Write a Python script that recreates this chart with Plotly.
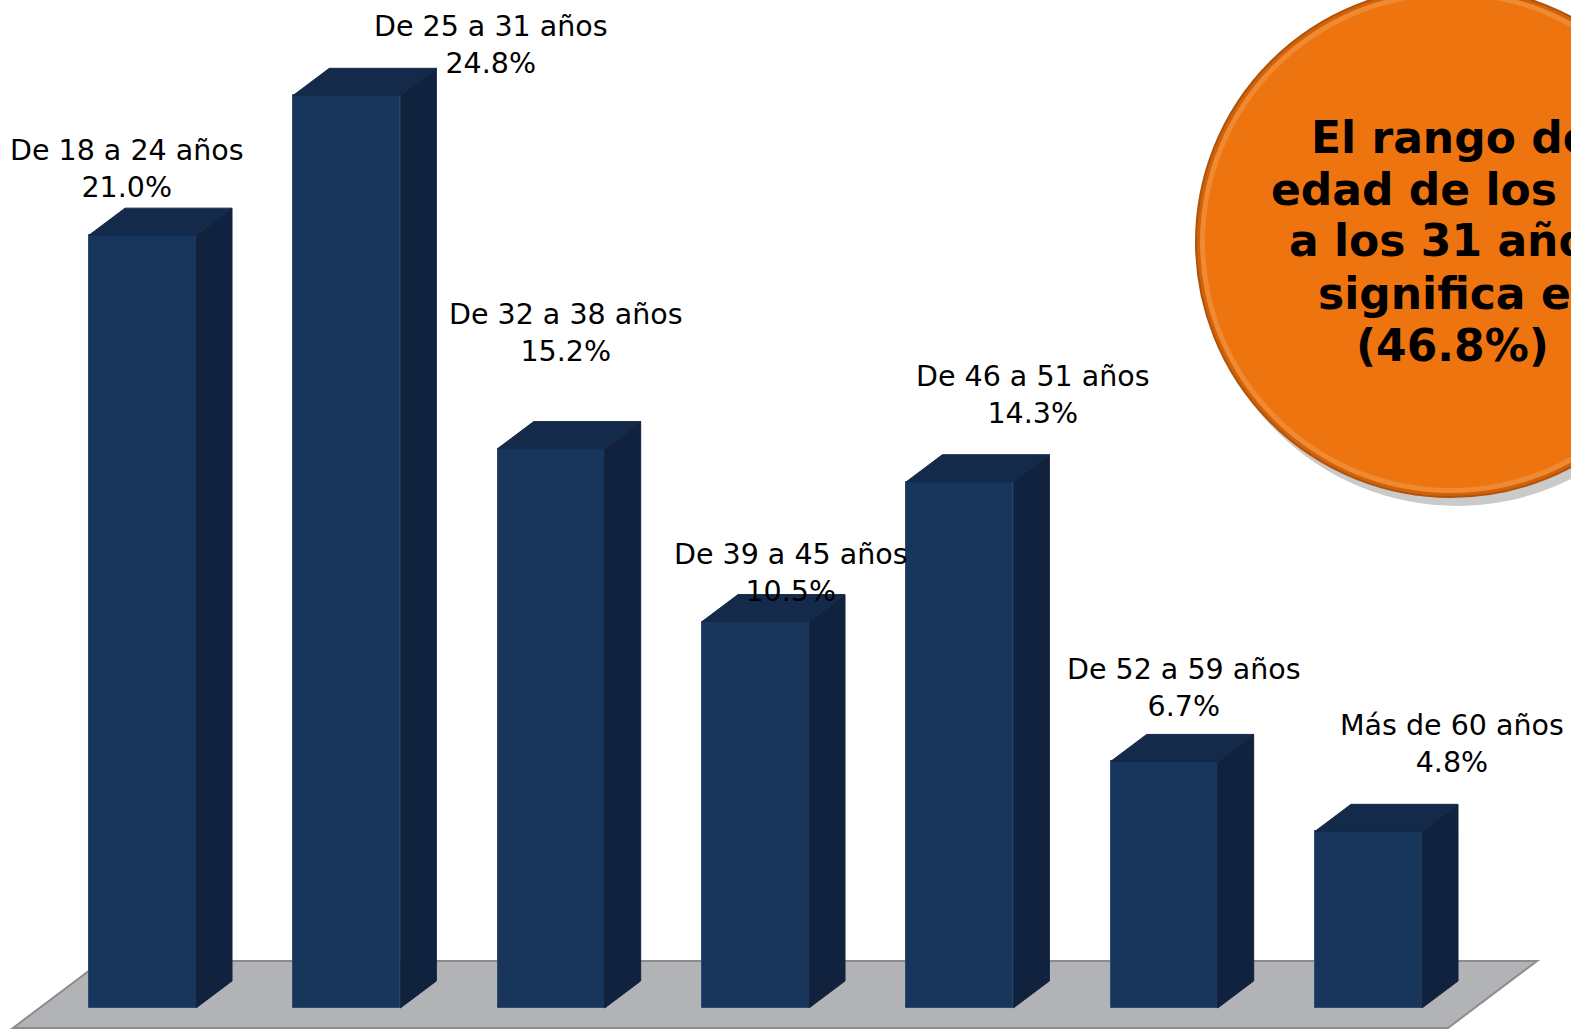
import plotly.graph_objects as go

# ---- data ----
categories = ["De 18 a 24 años", "De 25 a 31 años", "De 32 a 38 años", "De 39 a 45 años",
              "De 46 a 51 años", "De 52 a 59 años", "Más de 60 años"]
values = [21.0, 24.8, 15.2, 10.5, 14.3, 6.7, 4.8]
callout_lines = ["El rango de", "edad de los 18", "a los 31 años", "significa el", "(46.8%)"]

# ---- style / geometry ----
W, H = 1571, 1031
FRONT = "#18355C"
SIDE = "#10223E"
TOP = "#142A4A"
EDGE = "#2C4A72"
BAR_W = 0.5237          # in category units
DX, DY = 0.1762, 0.734  # 3D depth offset (x units, value units)
X_RANGE = [-0.6974, 6.991]
Y_RANGE = [-0.625, 27.39]
# label offsets in pixels (xshift, yshift) relative to bar front top centre
label_shift = [(-16, 66), (144, 50), (15, 116), (35, 49), (73, 87), (20, 73), (83, 87)]

fig = go.Figure()

idx = list(range(len(values)))
for i, v in zip(idx, values):
    xl, xr = i - BAR_W / 2, i + BAR_W / 2
    # side face
    fig.add_trace(go.Scatter(x=[xr, xr + DX, xr + DX, xr, xr],
                             y=[0, DY, v + DY, v, 0],
                             mode="lines", fill="toself", fillcolor=SIDE,
                             line=dict(color=SIDE, width=1), hoverinfo="skip"))
    # top face
    fig.add_trace(go.Scatter(x=[xl, xr, xr + DX, xl + DX, xl],
                             y=[v, v, v + DY, v + DY, v],
                             mode="lines", fill="toself", fillcolor=TOP,
                             line=dict(color=TOP, width=1), hoverinfo="skip"))

# front faces
fig.add_trace(go.Bar(x=idx, y=values, width=BAR_W, marker=dict(color=FRONT, line=dict(color=EDGE, width=1)),
                     hoverinfo="skip"))

# data labels
for i, (c, v) in enumerate(zip(categories, values)):
    sx, sy = label_shift[i]
    fig.add_annotation(x=i, y=v, text=f"{c}<br>{v:.1f}%", showarrow=False,
                       xanchor="center", yanchor="middle", xshift=sx, yshift=sy,
                       font=dict(family="DejaVu Sans", size=28.5, color="black"), align="center")

# floor (parallelogram) drawn below the traces
shapes = [dict(type="path", xref="x", yref="y", layer="below",
               path="M -0.634 -0.543 L -0.198 1.277 L 6.825 1.277 L 6.389 -0.543 Z",
               fillcolor="#B1B3B7", line=dict(color="#8C8C8C", width=2))]

# orange callout circle
cx, cy, r = 1451, 242, 255
def px(xp): return xp / W
def py(yp): return 1 - yp / H
shapes += [
    dict(type="circle", xref="paper", yref="paper", x0=px(cx - r + 6), x1=px(cx + r + 6),
         y0=py(cy + r + 9), y1=py(cy - r + 9), fillcolor="rgba(80,80,80,0.30)", line=dict(width=0), layer="above"),
    dict(type="circle", xref="paper", yref="paper", x0=px(cx - r), x1=px(cx + r),
         y0=py(cy + r), y1=py(cy - r), fillcolor="#D0620A", line=dict(color="#B05208", width=2), layer="above"),
    dict(type="circle", xref="paper", yref="paper", x0=px(cx - r + 4), x1=px(cx + r - 4),
         y0=py(cy + r - 4), y1=py(cy - r + 4), fillcolor="#F08A32", line=dict(width=0), layer="above"),
    dict(type="circle", xref="paper", yref="paper", x0=px(cx - r + 9), x1=px(cx + r - 9),
         y0=py(cy + r - 9), y1=py(cy - r + 9), fillcolor="#EE7410", line=dict(width=0), layer="above"),
]
fig.update_layout(shapes=shapes)

line_y = [137, 189, 241, 293, 345]
for t, ly in zip(callout_lines, line_y):
    fig.add_annotation(xref="paper", yref="paper", x=px(1452), y=py(ly), text=f"<b>{t}</b>",
                       showarrow=False, xanchor="center", yanchor="middle",
                       font=dict(family="DejaVu Sans", size=44, color="black"))

fig.update_layout(width=W, height=H, margin=dict(l=0, r=0, t=0, b=0),
                  paper_bgcolor="white", plot_bgcolor="white", showlegend=False,
                  xaxis=dict(range=X_RANGE, visible=False, fixedrange=True),
                  yaxis=dict(range=Y_RANGE, visible=False, fixedrange=True),
                  bargap=0)

fig.write_html("out.html", config={"displayModeBar": False},
               post_script="document.body.style.margin='0';document.body.style.overflow='hidden';")
